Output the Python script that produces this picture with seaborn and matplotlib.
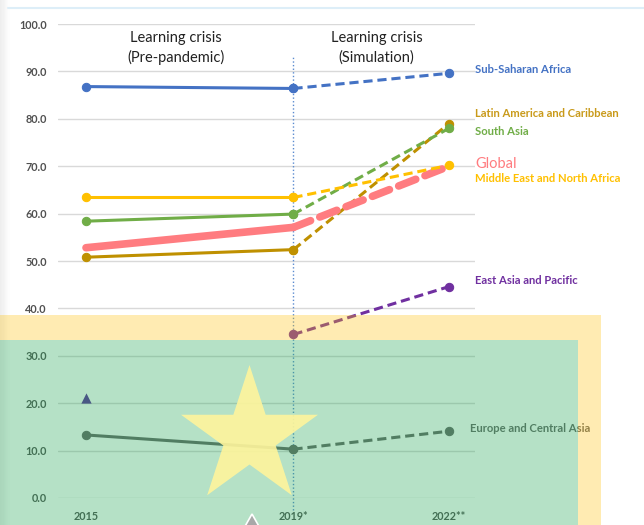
import numpy as np
import pandas as pd
import matplotlib
matplotlib.use("Agg")
import matplotlib.pyplot as plt
from matplotlib.patches import Polygon, Rectangle
from matplotlib.lines import Line2D
import seaborn as sns

# Dữ liệu
years = [2015, 2019, 2022]
year_labels = ["2015", "2019*", "2022**"]
regions = ["Sub-Saharan Africa", "Latin America and Caribbean", "South Asia",
           "Global", "Middle East and North Africa", "East Asia and Pacific",
           "Europe and Central Asia"]
ssa = [86.8, 86.4, 89.6]
lac = [50.8, 52.4, 79.0]
sas = [58.4, 59.9, 78.0]
glob = [52.8, 57.1, 70.0]
mena = [63.4, 63.4, 70.2]
eap = [21.1, 34.5, 44.6]
eca = [13.3, 10.3, 14.1]
colors = ["#4472C4", "#BF9000", "#70AD47", "#FF7C80", "#FFC000", "#7030A0", "#666666"]
label_y = [90.3, 81.2, 77.4, 70.5, 67.3, 45.8, 14.6]

values = [ssa, lac, sas, glob, mena, eap, eca]
rows = []
for reg, vals in zip(regions, values):
    for yr, v in zip(years, vals):
        rows.append({"region": reg, "year": yr, "value": v})
df = pd.DataFrame(rows)

sns.set_style("white")
plt.rcParams['font.family'] = ['Lato', 'DejaVu Sans']

W, H = 644, 525
fig = plt.figure(figsize=(W / 100, H / 100), dpi=100)
ax = fig.add_axes([58 / W, 27 / H, 417 / W, 474 / H])

for reg, col in zip(regions, colors):
    d = df[df["region"] == reg]
    is_glob = reg == "Global"
    lw = 5.5 if is_glob else 2.2
    ms = 0 if is_glob else 6
    dash = (0, (2.4, 1.3)) if is_glob else (0, (3, 1.6))
    pre = d[d["year"] <= 2019]
    post = d[d["year"] >= 2019]
    if reg != "East Asia and Pacific":
        sns.lineplot(data=pre, x="year", y="value", ax=ax, color=col, lw=lw,
                     marker="o", ms=ms, mec=col, estimator=None, zorder=3,
                     solid_capstyle="round")
    else:
        sns.scatterplot(data=pre[pre["year"] == 2015], x="year", y="value", ax=ax,
                        color="#5a2d9a", marker="^", s=55, linewidth=0, zorder=3)
    sns.lineplot(data=post, x="year", y="value", ax=ax, color=col, lw=lw,
                 linestyle=dash, marker="o", ms=ms, mec=col, estimator=None,
                 zorder=3, dash_capstyle="round" if is_glob else "butt")

# Đường chấm dọc 2019
ax.plot([2019, 2019], [-2.5, 93], color="#5B8BD0", lw=1, linestyle=(0, (1, 1.6)),
        clip_on=False, zorder=2)

ax.set_xlim(2014.46, 2022.5)
ax.set_ylim(0, 100)
ax.set_xticks(years)
ax.set_xticklabels(year_labels)
ax.set_yticks(np.arange(0, 101, 10))
ax.set_yticklabels([f"{v:.1f}" for v in np.arange(0, 101, 10)])
ax.tick_params(axis="both", length=0, labelsize=7.8, labelcolor="#505050")
ax.tick_params(axis="y", pad=8)
ax.tick_params(axis="x", pad=9)
for t in ax.get_xticklabels() + ax.get_yticklabels():
    t.set_fontweight("bold")
ax.grid(axis="y", color="#D9D9D9", lw=1)
ax.grid(axis="x", visible=False)
sns.despine(ax=ax, left=True, bottom=True)
ax.set_xlabel("")
ax.set_ylabel("")

ax.text(2016.73, 94.9, "Learning crisis\n(Pre-pandemic)", ha="center", va="center",
        fontsize=10.5, color="#222222", linespacing=1.45)
ax.text(2020.6, 94.9, "Learning crisis\n(Simulation)", ha="center", va="center",
        fontsize=10.5, color="#222222", linespacing=1.45)

for reg, col, ly in zip(regions, colors, label_y):
    if reg == "Global":
        ax.text(2022.5, ly, reg, color=col, fontsize=10.5, va="center", ha="left",
                clip_on=False)
    else:
        lx = 2022.4 if reg.startswith("Europe") else 2022.5
        lc = "#C99A1A" if reg.startswith("Latin") else col
        ax.text(lx, ly, reg, color=lc, fontsize=8.1, fontweight="bold",
                va="center", ha="left", clip_on=False)


def px(x, y):
    return (x / W, 1 - y / H)


# Dải xám bên trái và đường xanh phía trên
for i in range(8):
    fig.patches.append(Rectangle(px(i * 1.2, H), 1.2 / W, 1, transform=fig.transFigure,
                                 color="#9a9a9a", alpha=0.16 * (1 - i / 8), lw=0,
                                 zorder=-1))
fig.add_artist(Line2D([8 / W, 1], [1 - 8 / H, 1 - 8 / H], color="#DDEEF8", lw=1.5))

# Các lớp phủ
orange = Polygon([px(0, 340), px(578, 340), px(578, H), px(601, H), px(601, 315), px(0, 315)],
                 closed=True, transform=fig.transFigure, facecolor="#FFC000", alpha=0.3,
                 lw=0, zorder=5)
green = Rectangle(px(0, H), 578 / W, 185 / H, transform=fig.transFigure,
                  facecolor="#2BAA5C", alpha=0.35, lw=0, zorder=6)
cx, cy, R = 249.5, 437, 72
pts = []
for k in range(10):
    ang = np.pi / 2 + k * np.pi / 5
    rr = R if k % 2 == 0 else R * 0.382
    pts.append(px(cx + rr * np.cos(ang), cy - rr * np.sin(ang)))
star = Polygon(pts, closed=True, transform=fig.transFigure, facecolor="#FFF59C",
               alpha=0.9, lw=0, zorder=7)
tri = Polygon([px(252, 514), px(239, 537), px(265, 537)], closed=True,
              transform=fig.transFigure, facecolor="#A8A8A8", edgecolor="white",
              lw=1.2, zorder=8)
for p in [orange, green, star, tri]:
    fig.patches.append(p)

fig.savefig("out.png", dpi=100)
